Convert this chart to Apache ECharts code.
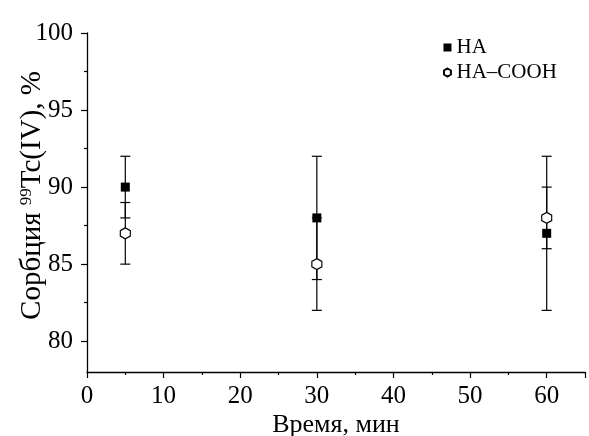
<!DOCTYPE html>
<html><head><meta charset="utf-8">
<script src="https://cdn.jsdelivr.net/npm/echarts@6/dist/echarts.min.js"></script>
<style>html,body{margin:0;padding:0;background:#fff}#c{width:589px;height:436px}</style>
</head><body><div id="c"></div>
<script>
const times = [5, 30, 60];
const haValues = [90, 88, 87];
const haErrors = [2, 4, 5];
const coohValues = [87, 85, 88];
const coohErrors = [2, 3, 2];
const yTickLabels = [80, 85, 90, 95, 100];
const yMinorTicks = [82.5, 87.5, 92.5, 97.5];
const seriesNames = ['HA', 'HA\u2013COOH'];

const FONT = '"Liberation Serif", "Times New Roman", serif';
const hexPath = 'path://M0,-10L8.66,-5L8.66,5L0,10L-8.66,5L-8.66,-5Z';

function errData(vals, errs) {
  return times.map((t, i) => [t, vals[i] - errs[i], vals[i] + errs[i]]);
}
function errRender(params, api) {
  const x = api.value(0);
  const lo = api.coord([x, api.value(1)]);
  const hi = api.coord([x, api.value(2)]);
  const w = 5;
  const st = { stroke: '#000', lineWidth: 1.2 };
  return { type: 'group', children: [
    { type: 'line', shape: { x1: lo[0], y1: lo[1], x2: hi[0], y2: hi[1] }, style: st },
    { type: 'line', shape: { x1: lo[0] - w, y1: lo[1], x2: lo[0] + w, y2: lo[1] }, style: st },
    { type: 'line', shape: { x1: hi[0] - w, y1: hi[1], x2: hi[0] + w, y2: hi[1] }, style: st }
  ]};
}

const chart = echarts.init(document.getElementById('c'));
const axisLine = { lineStyle: { color: '#000', width: 1.3 } };
chart.setOption({
  animation: false,
  grid: { left: 87, top: 33, right: 4, bottom: 64, containLabel: false, outerBoundsMode: 'none' },
  legend: {
    orient: 'vertical', left: 438, top: 32, itemWidth: 8, itemHeight: 8, itemGap: 4,
    data: [{ name: seriesNames[0] }, { name: seriesNames[1] }],
    textStyle: { fontFamily: FONT, fontSize: 21, color: '#000' }
  },
  xAxis: {
    type: 'value', min: 0, max: 65, interval: 10,
    axisLine: axisLine,
    axisTick: { inside: false, length: 6, lineStyle: { color: '#000', width: 1.2 } },
    minorTick: { show: true, splitNumber: 2, length: 3, lineStyle: { color: '#000', width: 1.2 } },
    splitLine: { show: false },
    axisLabel: { fontFamily: FONT, fontSize: 25, color: '#000', margin: 12, showMaxLabel: false },
    name: 'Время, мин', nameLocation: 'middle', nameGap: 40, nameMoveOverlap: false,
    nameTextStyle: { fontFamily: FONT, fontSize: 26, color: '#000' }
  },
  yAxis: [{
    type: 'value', min: 78, max: 100,
    axisLine: axisLine,
    axisTick: { length: 6, customValues: yTickLabels, lineStyle: { color: '#000', width: 1.2 } },
    splitLine: { show: false },
    axisLabel: { fontFamily: FONT, fontSize: 25, color: '#000', margin: 14, customValues: yTickLabels },
    name: '{a|Сорбция }{s|99}{a|Tc(IV), %}', nameLocation: 'middle', nameGap: 40, nameRotate: 90,
    nameMoveOverlap: false,
    nameTextStyle: { fontFamily: FONT, fontSize: 29, color: '#000', padding: [0, 0, 0, 14],
      rich: { a: { fontFamily: FONT, fontSize: 29, color: '#000' },
              s: { fontFamily: FONT, fontSize: 17, color: '#000', verticalAlign: 'top', padding: [0, 0, 12, 0] } } }
  }, {
    type: 'value', min: 78, max: 100, position: 'left',
    axisLine: { show: false },
    axisTick: { length: 3, customValues: yMinorTicks, lineStyle: { color: '#000', width: 1.2 } },
    splitLine: { show: false },
    axisLabel: { show: false }
  }],
  series: [
    { type: 'custom', renderItem: errRender, data: errData(haValues, haErrors), z: 2, silent: true, encode: { x: 0, y: [1, 2] } },
    { type: 'custom', renderItem: errRender, data: errData(coohValues, coohErrors), z: 2, silent: true, encode: { x: 0, y: [1, 2] } },
    { name: seriesNames[0], type: 'scatter', symbol: 'rect', symbolSize: 9, z: 5,
      itemStyle: { color: '#000', opacity: 1 },
      data: times.map((t, i) => [t, haValues[i]]) },
    { name: seriesNames[1], type: 'scatter', symbol: hexPath, symbolSize: [10, 11], z: 6,
      itemStyle: { color: '#fff', borderColor: '#000', borderWidth: 1.2, opacity: 1 },
      data: times.map((t, i) => [t, coohValues[i]]) }
  ]
});
</script></body></html>
